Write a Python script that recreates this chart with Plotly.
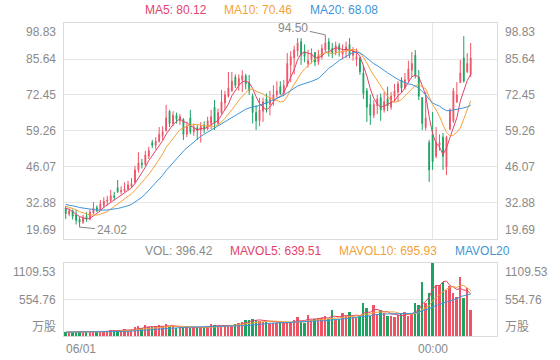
import plotly.graph_objects as go

# ---------------- data ----------------
prev_closes = [33.5, 32.0, 34.0, 33.0, 31.5, 32.5, 34.5, 33.0, 32.0, 33.5,
               34.0, 32.5, 31.0, 33.0, 32.0, 31.5, 32.5, 31.0, 30.5]
prev_volumes = [60, 58, 65, 62, 55, 60, 58, 64, 57, 60,
                62, 55, 58, 60, 63, 57, 59, 61, 56]

opens = [31.0, 28.8, 30.0, 28.5, 27.0, 25.8, 28.0, 27.0, 29.2, 31.2,
         30.2, 32.0, 33.5, 33.8, 35.5, 38.5, 37.0, 37.2, 38.0, 39.0,
         40.5, 45.0, 47.5, 47.0, 50.0, 55.0, 54.0, 55.5, 57.5, 59.5,
         66.5, 62.0, 65.0, 63.0, 63.5, 58.0, 64.0, 59.0, 60.5, 59.5,
         61.5, 60.0, 62.0, 68.0, 62.0, 66.0, 69.5, 72.0, 74.0, 79.0,
         76.0, 78.0, 79.5, 77.0, 72.0, 66.0, 63.0, 66.5, 71.0, 69.0,
         70.5, 72.5, 75.5, 73.0, 76.0, 83.5, 86.0, 88.5, 92.0, 88.5,
         84.0, 85.5, 88.0, 84.5, 86.5, 89.0, 92.0, 89.5, 88.0, 90.5,
         87.5, 88.5, 91.0, 87.0, 85.5, 86.0, 80.5, 74.0, 69.0, 65.0,
         68.5, 71.5, 67.0, 71.0, 68.0, 72.0, 73.5, 78.0, 75.0, 78.0,
         81.5, 87.0, 79.0, 71.5, 60.5, 55.0, 58.0, 50.0, 54.0, 57.0,
         46.0, 60.0, 63.0, 70.0, 77.0, 86.0, 81.0, 80.0]
highs = [31.8, 30.8, 30.5, 30.3, 27.8, 28.5, 29.5, 30.5, 33.2, 32.0,
         34.0, 35.0, 35.5, 37.7, 37.0, 41.3, 39.0, 40.5, 41.0, 42.0,
         46.5, 51.5, 49.0, 52.0, 53.5, 56.0, 57.0, 60.7, 61.0, 68.8,
         67.0, 66.5, 66.0, 65.5, 64.0, 62.5, 67.0, 62.0, 61.5, 62.5,
         62.8, 64.5, 67.0, 70.6, 67.5, 74.3, 74.0, 80.9, 80.9, 80.0,
         80.0, 81.5, 80.2, 79.8, 73.0, 68.8, 71.4, 71.5, 73.0, 74.0,
         76.0, 77.5, 77.5, 78.0, 87.8, 88.5, 90.5, 93.3, 93.3, 91.0,
         89.0, 89.5, 88.2, 89.0, 91.0, 94.5, 93.3, 91.5, 92.0, 91.5,
         91.0, 92.0, 93.3, 90.0, 89.5, 86.5, 83.4, 75.0, 72.5, 70.5,
         72.5, 73.0, 73.5, 75.5, 73.5, 76.5, 77.5, 79.0, 80.5, 85.0,
         88.2, 88.9, 81.6, 71.7, 73.5, 56.0, 66.2, 60.7, 58.0, 58.5,
         57.5, 67.5, 75.0, 77.2, 85.3, 94.0, 87.8, 91.5]
lows = [27.0, 28.0, 26.8, 25.0, 24.02, 25.2, 26.0, 26.5, 28.8, 29.5,
        30.0, 31.0, 32.0, 33.2, 34.0, 36.5, 36.0, 36.8, 37.5, 38.5,
        40.0, 44.0, 45.5, 46.5, 49.0, 53.0, 52.5, 55.0, 55.9, 59.0,
        60.7, 61.0, 62.0, 61.5, 56.0, 57.0, 58.0, 57.5, 56.0, 55.0,
        58.5, 59.5, 60.0, 59.6, 61.5, 65.5, 67.0, 71.5, 73.6, 75.0,
        74.0, 73.5, 74.5, 72.5, 62.0, 59.6, 61.0, 62.6, 66.0, 65.0,
        68.5, 71.5, 72.5, 72.0, 75.5, 77.2, 80.0, 86.5, 83.5, 84.5,
        82.5, 84.0, 83.0, 83.5, 85.5, 88.2, 86.5, 86.0, 87.0, 86.5,
        85.5, 86.0, 86.0, 85.0, 83.0, 79.8, 71.0, 62.6, 61.5, 64.0,
        65.5, 63.0, 66.0, 66.5, 67.0, 70.0, 70.0, 73.5, 74.5, 77.0,
        79.0, 78.5, 70.6, 59.6, 59.5, 40.6, 45.0, 49.3, 52.0, 45.0,
        43.1, 59.6, 62.2, 69.5, 76.8, 77.0, 80.5, 79.0]
closes = [29.0, 30.0, 28.0, 26.5, 25.8, 27.5, 27.0, 29.5, 31.0, 30.0,
          32.5, 33.5, 34.0, 35.5, 35.0, 37.0, 37.5, 38.0, 39.5, 40.0,
          45.0, 47.5, 47.0, 50.5, 52.0, 54.0, 55.5, 58.0, 59.0, 64.0,
          62.0, 65.0, 63.5, 64.5, 58.0, 61.0, 59.0, 60.5, 59.5, 61.0,
          60.0, 63.0, 64.5, 62.0, 66.0, 70.0, 72.5, 75.0, 77.5, 76.0,
          78.5, 79.5, 76.5, 74.0, 66.0, 63.0, 67.0, 70.0, 69.0, 71.0,
          72.5, 74.0, 73.0, 76.0, 84.0, 86.5, 89.0, 91.5, 87.0, 86.5,
          85.0, 87.5, 84.5, 87.0, 89.5, 91.5, 89.0, 88.0, 90.5, 89.0,
          88.5, 90.0, 87.0, 88.5, 86.5, 81.0, 73.0, 68.0, 65.0, 69.0,
          71.0, 67.0, 70.0, 68.5, 72.0, 74.0, 76.5, 75.0, 78.0, 82.0,
          84.0, 79.5, 72.0, 62.0, 64.0, 45.0, 48.0, 55.0, 55.0, 50.0,
          57.0, 67.0, 74.0, 72.5, 80.5, 77.5, 84.0, 86.0]
volumes = [55, 60, 58, 62, 70, 58, 55, 60, 65, 62,
           75, 80, 70, 85, 90, 95, 80, 100, 88, 95,
           130, 150, 120, 170, 140, 135, 145, 165, 150, 175,
           140, 150, 125, 135, 130, 145, 120, 115, 125, 135,
           140, 150, 180, 165, 150, 145, 155, 170, 160, 175,
           200, 215, 250, 240, 260, 245, 230, 215, 210, 200,
           205, 195, 210, 190, 200, 220, 240, 290, 210, 205,
           320, 250, 260, 270, 280, 300, 265, 395, 250, 260,
           350, 300, 360, 290, 280, 310, 500, 420, 300, 470,
           330, 395, 350, 310, 300, 290, 320, 330, 365, 310,
           340, 500, 470, 820, 500, 650, 1109.53, 770, 780, 820,
           700, 760, 660, 590, 900, 580, 730, 396.42]

price_ticks = [19.69, 32.88, 46.07, 59.26, 72.45, 85.64, 98.83]
vol_ticks = [0, 554.76, 1109.53]
vol_tick_text = ["万股", "554.76", "1109.53"]
x_tick_pos = [0, 106]
x_tick_text = ["06/01", "00:00"]
ma_labels = ["MA5: 80.12", "MA10: 70.46", "MA20: 68.08"]
vol_labels = ["VOL: 396.42", "MAVOL5: 639.51", "MAVOL10: 695.93", "MAVOL20"]
max_mark = (75, 94.50)
min_mark = (4, 24.02)

# ---------------- styles ----------------
UP = "#ef5466"
DOWN = "#1ba362"
C_MA5 = "#e2436b"
C_MA10 = "#f5a23a"
C_MA20 = "#3f95d8"
GRID = "#e6e6e6"
TXT = "#8a8a8a"
FONT = "Arial, Liberation Sans, Noto Sans CJK SC"


def moving_avg(values, warm, n):
    full = list(warm) + list(values)
    out = []
    for k in range(len(warm), len(full)):
        seg = full[max(0, k - n + 1):k + 1]
        out.append(sum(seg) / len(seg))
    return out


idx = list(range(len(closes)))
vol_colors = [UP if c >= o else DOWN for o, c in zip(opens, closes)]

fig = go.Figure()
fig.add_trace(go.Candlestick(
    x=idx, open=opens, high=highs, low=lows, close=closes,
    increasing=dict(line=dict(color=UP, width=1), fillcolor=UP),
    decreasing=dict(line=dict(color=DOWN, width=1), fillcolor=DOWN),
    whiskerwidth=0, showlegend=False, xaxis="x", yaxis="y"))

for n, col in [(5, C_MA5), (10, C_MA10), (20, C_MA20)]:
    fig.add_trace(go.Scatter(x=idx, y=moving_avg(closes, prev_closes, n), mode="lines",
                             line=dict(color=col, width=1), showlegend=False,
                             xaxis="x", yaxis="y"))

fig.add_trace(go.Bar(x=idx, y=volumes, marker=dict(color=vol_colors, line=dict(width=0)),
                     width=0.55, showlegend=False, xaxis="x2", yaxis="y2"))
for n, col in [(5, C_MA5), (10, C_MA10), (20, C_MA20)]:
    fig.add_trace(go.Scatter(x=idx, y=moving_avg(volumes, prev_volumes, n), mode="lines",
                             line=dict(color=col, width=1), showlegend=False,
                             xaxis="x2", yaxis="y2"))

xr = [-0.5, 124.6]
axis_common = dict(showline=True, linecolor="#dcdcdc", linewidth=1, mirror=True,
                   zeroline=False, showticklabels=False, ticks="")
fig.update_layout(
    width=560, height=360,
    margin=dict(l=64, r=63, t=23, b=24),
    paper_bgcolor="white", plot_bgcolor="white",
    font=dict(family=FONT, size=12, color=TXT),
    showlegend=False, bargap=0, boxgap=0.65,
    xaxis=dict(domain=[0, 1], anchor="y", range=xr, tickvals=[x_tick_pos[1]],
               showgrid=True, gridcolor=GRID, rangeslider=dict(visible=False), **axis_common),
    yaxis=dict(domain=[0.31, 1], range=[price_ticks[0], price_ticks[-1]],
               tickvals=price_ticks, showgrid=True, gridcolor=GRID, **axis_common),
    xaxis2=dict(domain=[0, 1], anchor="y2", range=xr, tickvals=[x_tick_pos[1]],
                showgrid=True, gridcolor=GRID, **axis_common),
    yaxis2=dict(domain=[0, 0.2332], anchor="x2", range=[vol_ticks[0], vol_ticks[-1]],
                tickvals=vol_ticks, showgrid=True, gridcolor=GRID, **axis_common),
)

ann = []
for i, v in enumerate(price_ticks):
    ya = "bottom" if i == 0 else ("top" if i == len(price_ticks) - 1 else "middle")
    for side in (0, 1):
        ann.append(dict(xref="paper", yref="y", x=side, y=v, text=f"{v:.2f}",
                        showarrow=False, xanchor="right" if side == 0 else "left",
                        xshift=-6 if side == 0 else 6, yanchor=ya,
                        font=dict(size=12, color=TXT)))
for i, (v, t) in enumerate(zip(vol_ticks, vol_tick_text)):
    ya = "bottom" if i == 0 else ("top" if i == len(vol_ticks) - 1 else "middle")
    for side in (0, 1):
        ann.append(dict(xref="paper", yref="y2", x=side, y=v, text=t,
                        showarrow=False, xanchor="right" if side == 0 else "left",
                        xshift=-6 if side == 0 else 6, yanchor=ya,
                        font=dict(size=12, color=TXT)))
ann.append(dict(xref="paper", yref="paper", x=0, y=-0.012, text=x_tick_text[0],
                showarrow=False, xanchor="left", yanchor="top", font=dict(size=12, color=TXT)))
ann.append(dict(xref="x2", yref="paper", x=x_tick_pos[1], y=-0.012, text=x_tick_text[1],
                showarrow=False, xanchor="center", yanchor="top", font=dict(size=12, color=TXT)))
for t, col, px in zip(ma_labels, [C_MA5, C_MA10, C_MA20], [143, 222, 308]):
    ann.append(dict(xref="paper", yref="paper", x=(px - 64) / 433, y=1.0415, text=t,
                    showarrow=False, xanchor="left", yanchor="middle",
                    font=dict(size=12, color=col)))
for t, col, px in zip(vol_labels, [TXT, C_MA5, C_MA10, C_MA20], [143, 228, 337, 453]):
    ann.append(dict(xref="paper", yref="paper", x=(px - 64) / 433, y=0.2716, text=t,
                    showarrow=False, xanchor="left", yanchor="middle",
                    font=dict(size=12, color=col)))
ann.append(dict(xref="x", yref="y", x=max_mark[0], y=max_mark[1], text=f"{max_mark[1]:.2f}",
                showarrow=True, arrowhead=0, arrowwidth=1, arrowcolor="#888",
                ax=-32, ay=-7, font=dict(size=12, color=TXT)))
ann.append(dict(xref="x", yref="y", x=min_mark[0], y=min_mark[1], text=f"{min_mark[1]:.2f}",
                showarrow=True, arrowhead=0, arrowwidth=1, arrowcolor="#888",
                ax=32, ay=3, font=dict(size=12, color=TXT)))
fig.update_layout(annotations=ann)

fig.write_html("out.html", config={"displayModeBar": False},
               post_script="document.body.style.margin='0';document.body.style.padding='0';")
